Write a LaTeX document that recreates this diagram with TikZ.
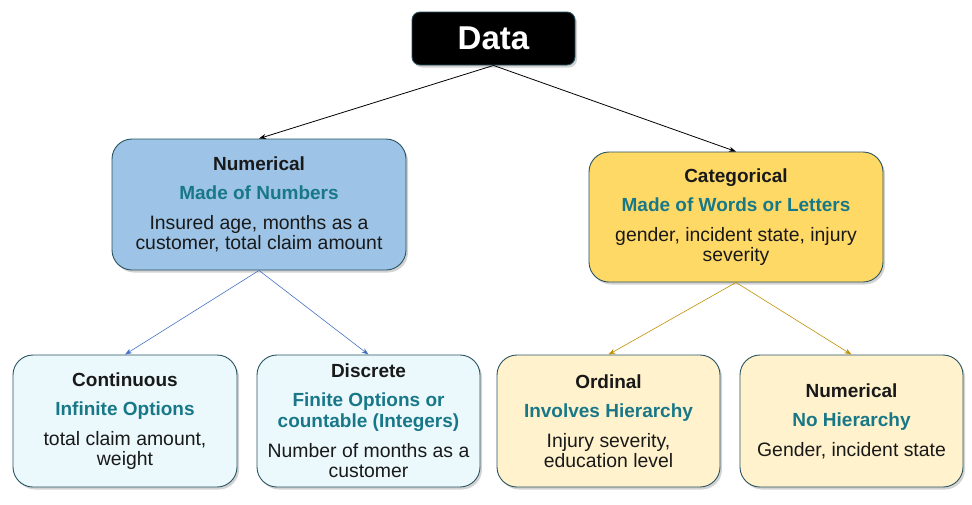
\documentclass[tikz,border=0pt]{standalone}
\usepackage{fontspec}
\setmainfont{Liberation Sans}
\usetikzlibrary{shadows,arrows.meta}
\definecolor{tealtxt}{RGB}{24,120,136}
\definecolor{bordc}{RGB}{40,82,96}
\definecolor{numfill}{RGB}{157,195,230}
\definecolor{catfill}{RGB}{255,217,102}
\definecolor{cyanfill}{RGB}{235,249,253}
\definecolor{creamfill}{RGB}{255,242,204}
\definecolor{bluearr}{RGB}{68,114,196}
\definecolor{goldarr}{RGB}{191,144,0}
\newcommand{\hd}[1]{{\fontsize{19}{20.5}\selectfont\bfseries #1}}
\newcommand{\tl}[1]{{\fontsize{19}{20.5}\selectfont\bfseries\color{tealtxt}#1}}
\tikzset{
  box/.style={draw=bordc, line width=0.9pt, rounded corners=20pt, align=center,
    font=\fontsize{19.4}{20.5}\selectfont, text=black!90,
    drop shadow={opacity=0.35, shadow xshift=2pt, shadow yshift=-2.5pt}},
  conn/.style={line width=0.8pt, -{Stealth[length=7pt,width=5pt]}}
}
\begin{document}
\begin{tikzpicture}[x=1pt,y=-1pt]
\useasboundingbox (0,0) rectangle (972,504);
\node[box, fill=black, text=white, rounded corners=8pt, minimum width=163pt, minimum height=53pt,
  font=\fontsize{33}{36}\selectfont\bfseries] (data) at (493.5,38.5) {Data};
\node[box, fill=numfill, minimum width=294pt, minimum height=131pt] (num) at (259,204.5)
  {\hd{Numerical}\\[8.5pt]\tl{Made of Numbers}\\[9.5pt]Insured age, months as a\\customer, total claim amount};
\node[box, fill=catfill, minimum width=294pt, minimum height=130pt] (cat) at (736,217)
  {\hd{Categorical}\\[8.5pt]\tl{Made of Words or Letters}\\[9.5pt]gender, incident state, injury\\severity};
\node[box, fill=cyanfill, minimum width=224pt, minimum height=132pt] (cont) at (125,421)
  {\hd{Continuous}\\[8.5pt]\tl{Infinite Options}\\[9.5pt]total claim amount,\\weight};
\node[box, fill=cyanfill, minimum width=223pt, minimum height=132pt] (disc) at (368.5,421)
  {\hd{Discrete}\\[8.5pt]\tl{Finite Options or}\\\tl{countable (Integers)}\\[9.5pt]Number of months as a\\customer};
\node[box, fill=creamfill, minimum width=223pt, minimum height=132pt] (ord) at (608.5,421)
  {\hd{Ordinal}\\[8.5pt]\tl{Involves Hierarchy}\\[9.5pt]Injury severity,\\education level};
\node[box, fill=creamfill, minimum width=223pt, minimum height=132pt] (num2) at (851.5,421)
  {\hd{Numerical}\\[8.5pt]\tl{No Hierarchy}\\[9.5pt]Gender, incident state};
\draw[conn] (data.south) -- (num.north);
\draw[conn] (data.south) -- (cat.north);
\draw[conn, bluearr, line width=0.6pt] (num.south) -- (cont.north);
\draw[conn, bluearr, line width=0.6pt] (num.south) -- (disc.north);
\draw[conn, goldarr, line width=0.6pt] (cat.south) -- (ord.north);
\draw[conn, goldarr, line width=0.6pt] (cat.south) -- (num2.north);
\end{tikzpicture}
\end{document}
